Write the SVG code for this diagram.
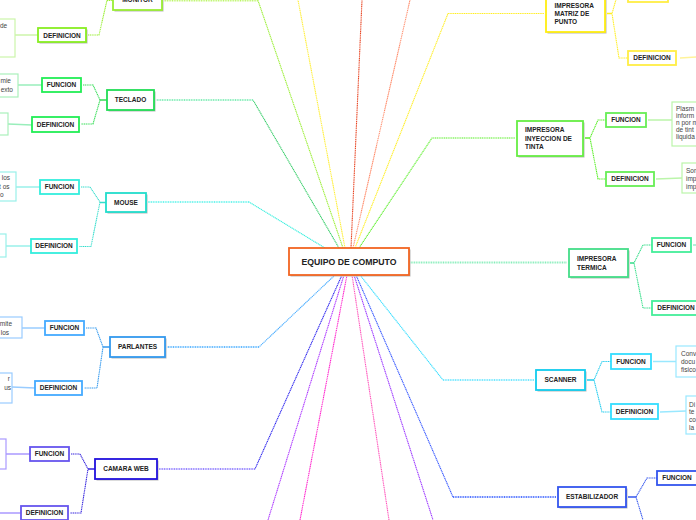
<svg xmlns="http://www.w3.org/2000/svg" width="696" height="520" viewBox="0 0 696 520">
<style>
.bg{fill:#ffffff}
.sh{fill:#b8b8b8}
.n{fill:#ffffff;stroke-width:1.8}
.tb{fill:#ffffff;stroke-width:1.2}
.t{font-family:"Liberation Sans",Arial,sans-serif;font-weight:bold;font-size:6.5px;fill:#222;text-anchor:middle}
.tl{font-family:"Liberation Sans",Arial,sans-serif;font-weight:bold;font-size:6.5px;fill:#222}
.d{font-family:"Liberation Sans",Arial,sans-serif;font-size:6.5px;fill:#444}
.de{font-family:"Liberation Sans",Arial,sans-serif;font-size:6.5px;fill:#444;text-anchor:end}
.c{fill:none;stroke-width:1.1;stroke-dasharray:1.2 0.6}
.cw{fill:none;stroke-width:2;stroke-dasharray:1 0.7}
.s{fill:none;stroke-width:1.5}
</style>
<rect class="bg" x="0" y="0" width="696" height="520"/>
<g id="connectors">
  <!-- main -->
  <path class="c" stroke="#99ee33" d="M343 248 L258 0.5"/>
  <path class="cw" stroke="#bbf566" d="M258 0.5 H164"/>
  <path class="c" stroke="#ffee33" d="M345 248 L298 0"/>
  <path class="c" stroke="#e84422" d="M351 248 L362 0"/>
  <path class="c" stroke="#ff8866" d="M353 248 L410 0"/>
  <path class="c" stroke="#33cc66" d="M339 248 L253 100"/>
  <path class="cw" stroke="#88eebb" d="M253 100 H156"/>
  <path class="c" stroke="#33eedd" d="M325 248 L249 202"/>
  <path class="cw" stroke="#77f5ee" d="M249 202 H148"/>
  <path class="c" stroke="#ffee22" d="M355 248 L448 13.5 H544"/>
  <path class="c" stroke="#55ee22" d="M359 248 L432 138 H515"/>
  <path class="cw" stroke="#88eebb" d="M409 262.5 H567"/>
  <path class="c" stroke="#44aaff" d="M335 275 L259 347"/>
  <path class="cw" stroke="#66bbff" d="M259 347 H167"/>
  <path class="c" stroke="#2a22ee" d="M342 275 L255 469"/>
  <path class="cw" stroke="#9988ff" d="M255 469 H159"/>
  <path class="c" stroke="#aa33ff" d="M344 275 L268 520"/>
  <path class="c" stroke="#ff22cc" d="M347 275 L300 520"/>
  <path class="c" stroke="#ff55bb" d="M352 275 L389 520"/>
  <path class="c" stroke="#9933ff" d="M354 275 L433 520"/>
  <path class="c" stroke="#3355ff" d="M356 275 L453 497"/>
  <path class="cw" stroke="#5577ff" d="M453 497 H556"/>
  <path class="c" stroke="#33ddff" d="M360 275 L443 380"/>
  <path class="cw" stroke="#77e8ff" d="M443 380 H534"/>
  <!-- branches -->
  <path class="c" stroke="#99ee33" d="M88 35 H99 L108 -4 M107 0.5 H113"/>
  <path class="s" stroke="#33dd55" d="M107 100 H100"/>
  <path class="c" stroke="#33dd55" d="M83 85 H93 L100 100 L93 124 H81"/>
  <path class="s" stroke="#33ddcc" d="M106 202.5 H100"/>
  <path class="c" stroke="#33ddcc" d="M81 187 H90 L100 202 L91 246.5 H79"/>
  <path class="s" stroke="#3399ee" d="M110 347 H103"/>
  <path class="c" stroke="#3399ee" d="M86 328 H96 L103 347 L97 388 H84"/>
  <path class="s" stroke="#3322dd" d="M95 469 H88"/>
  <path class="c" stroke="#3322dd" d="M71 454 H80 L88 469 L81 513 H70"/>
  <path class="s" stroke="#ffee22" d="M607 13.5 H612"/>
  <path class="c" stroke="#ffee22" d="M617 -4 L612 13.5 L619 58 H628"/>
  <path class="s" stroke="#55ee22" d="M585 138 H590"/>
  <path class="c" stroke="#55ee22" d="M606 120 H598 L590 138 L598 179 H606"/>
  <path class="s" stroke="#33dd88" d="M630 263 H634"/>
  <path class="c" stroke="#33dd88" d="M652 245 H643 L634 263 L643 308 H652"/>
  <path class="s" stroke="#22ccee" d="M587 380 H594"/>
  <path class="c" stroke="#22ccee" d="M611 361.5 H602 L594 380 L602 412 H611"/>
  <path class="s" stroke="#3355ee" d="M628 497 H636"/>
  <path class="c" stroke="#3355ee" d="M657 478 H647 L636 497 L643 520"/>
  <!-- to text boxes -->
  <path class="s" stroke="#ccf5aa" d="M15 35 H38"/>
  <path class="s" stroke="#99eebb" d="M18 85 H42"/>
  <path class="s" stroke="#99eebb" d="M8 124 L32 125"/>
  <path class="s" stroke="#99f0ea" d="M16 187 H40"/>
  <path class="s" stroke="#99f0ea" d="M6 246 H31"/>
  <path class="s" stroke="#99ccff" d="M22 328 H45"/>
  <path class="s" stroke="#99ccff" d="M12 387 L35 388"/>
  <path class="s" stroke="#aa99ff" d="M6 454 H30"/>
  <path class="s" stroke="#aa99ff" d="M0 513 H21"/>
  <path class="s" stroke="#bbf5aa" d="M648 120 H672"/>
  <path class="s" stroke="#bbf5aa" d="M656 179 L682 178"/>
  <path class="s" stroke="#fff399" d="M680 58 L696 57"/>
  <path class="s" stroke="#99eecc" d="M693 245 H696"/>
  <path class="s" stroke="#99e8ff" d="M653 361.5 H676"/>
  <path class="s" stroke="#99e8ff" d="M660 412 L686 411"/>
</g>

<g id="equipo">
  <rect class="sh" x="290.5" y="249.5" width="120" height="27"/>
  <rect class="n" stroke="#f26522" x="289" y="248" width="120" height="27"/>
  <text x="349" y="264.5" style="font-family:'Liberation Sans',Arial,sans-serif;font-weight:bold;font-size:8.7px;fill:#222;text-anchor:middle">EQUIPO DE COMPUTO</text>
</g>

<!-- LEFT -->
<g id="monitor">
  <rect class="sh" x="114.5" y="-8.5" width="49" height="20"/>
  <rect class="n" stroke="#99ee33" x="113" y="-10" width="49" height="20"/>
  <text class="t" x="137.5" y="2.3">MONITOR</text>
</g>
<g id="monitor-def">
  <rect class="sh" x="39.5" y="29.5" width="48" height="14"/>
  <rect class="n" stroke="#88ee22" x="38" y="28" width="48" height="14"/>
  <text class="t" x="62" y="37.5">DEFINICION</text>
</g>
<g id="monitor-def-text">
  <rect class="tb" stroke="#ccf5aa" x="-60" y="19" width="75" height="38"/>
  <text class="d" x="0" y="28">de</text>
</g>

<g id="teclado">
  <rect class="sh" x="108.5" y="91.5" width="47" height="20"/>
  <rect class="n" stroke="#22dd55" x="107" y="90" width="47" height="20"/>
  <text class="t" x="130.5" y="102.3">TECLADO</text>
</g>
<g id="teclado-fun">
  <rect class="n" stroke="#22ee55" x="42" y="78" width="39" height="14"/>
  <text class="t" x="61.5" y="87.3">FUNCION</text>
</g>
<g id="teclado-def">
  <rect class="n" stroke="#22ee55" x="32" y="117" width="47" height="15"/>
  <text class="t" x="55.5" y="126.8">DEFINICION</text>
</g>
<g id="teclado-fun-text">
  <rect class="tb" stroke="#aaf0bb" x="-60" y="74" width="78" height="23"/>
  <text class="de" x="11" y="83">mie</text>
  <text class="de" x="13" y="92">exto</text>
</g>
<g id="teclado-def-text">
  <rect class="tb" stroke="#aaf0bb" x="-60" y="113" width="68" height="22"/>
</g>

<g id="mouse">
  <rect class="sh" x="107.5" y="194.5" width="40" height="19"/>
  <rect class="n" stroke="#22ddcc" x="106" y="193" width="40" height="19"/>
  <text class="t" x="126" y="204.8">MOUSE</text>
</g>
<g id="mouse-fun">
  <rect class="n" stroke="#33eedd" x="40" y="180" width="39" height="14"/>
  <text class="t" x="59.5" y="189.3">FUNCION</text>
</g>
<g id="mouse-def">
  <rect class="n" stroke="#33eedd" x="31" y="239" width="46" height="14"/>
  <text class="t" x="54" y="248.3">DEFINICION</text>
</g>
<g id="mouse-fun-text">
  <rect class="tb" stroke="#99f0ea" x="-60" y="172" width="76" height="29"/>
  <text class="de" x="10" y="180">e los</text>
  <text class="de" x="9.5" y="188.5">t os</text>
  <text class="de" x="3.5" y="197">o</text>
</g>
<g id="mouse-def-text">
  <rect class="tb" stroke="#99f0ea" x="-60" y="234" width="66" height="23"/>
</g>

<g id="parlantes">
  <rect class="sh" x="111.5" y="338.5" width="55" height="20"/>
  <rect class="n" stroke="#3399ee" x="110" y="337" width="55" height="20"/>
  <text class="t" x="137.5" y="349.3">PARLANTES</text>
</g>
<g id="parlantes-fun">
  <rect class="n" stroke="#44aaff" x="45" y="321" width="39" height="14"/>
  <text class="t" x="64.5" y="330.3">FUNCION</text>
</g>
<g id="parlantes-def">
  <rect class="n" stroke="#44aaff" x="35" y="381" width="47" height="14"/>
  <text class="t" x="58.5" y="390.3">DEFINICION</text>
</g>
<g id="parlantes-fun-text">
  <rect class="tb" stroke="#99ccff" x="-60" y="317" width="82" height="21"/>
  <text class="de" x="12" y="326">mite</text>
  <text class="de" x="9" y="334.5">los</text>
</g>
<g id="parlantes-def-text">
  <rect class="tb" stroke="#99ccff" x="-60" y="373" width="72" height="30"/>
  <text class="de" x="10" y="381">r</text>
  <text class="de" x="11" y="390">us</text>
</g>

<g id="camara">
  <rect class="sh" x="96.5" y="460.5" width="62" height="20"/>
  <rect class="n" stroke="#2211dd" x="95" y="459" width="62" height="20"/>
  <text class="t" x="126" y="471.3">CAMARA WEB</text>
</g>
<g id="camara-fun">
  <rect class="n" stroke="#6655ee" x="30" y="447" width="39" height="14"/>
  <text class="t" x="49.5" y="456.3">FUNCION</text>
</g>
<g id="camara-def">
  <rect class="n" stroke="#6655ee" x="21" y="506" width="47" height="14"/>
  <text class="t" x="44.5" y="515.3">DEFINICION</text>
</g>
<g id="camara-fun-text">
  <rect class="tb" stroke="#aa99ff" x="-60" y="439" width="66" height="30"/>
</g>

<!-- RIGHT -->
<g id="matriz">
  <rect class="sh" x="547.5" y="-8.5" width="59" height="42"/>
  <rect class="n" stroke="#ffee11" x="546" y="-10" width="59" height="42"/>
  <text class="tl" x="554.5" y="7.8">IMPRESORA</text>
  <text class="tl" x="554.5" y="16.2">MATRIZ DE</text>
  <text class="tl" x="554.5" y="24.3">PUNTO</text>
</g>
<g id="matriz-fun">
  <rect class="n" stroke="#ffee44" x="628" y="-12" width="40" height="14"/>
</g>
<g id="matriz-def">
  <rect class="n" stroke="#ffee44" x="628" y="51" width="48" height="14"/>
  <text class="t" x="652" y="60.3">DEFINICION</text>
</g>

<g id="inyeccion">
  <rect class="sh" x="518.5" y="122.5" width="66" height="35"/>
  <rect class="n" stroke="#66ee44" x="517" y="121" width="66" height="35"/>
  <text class="tl" x="525" y="132.3">IMPRESORA</text>
  <text class="tl" x="525" y="140.5">INYECCION DE</text>
  <text class="tl" x="525" y="148.5">TINTA</text>
</g>
<g id="inyeccion-fun">
  <rect class="n" stroke="#66ee55" x="606" y="113" width="40" height="14"/>
  <text class="t" x="626" y="122.3">FUNCION</text>
</g>
<g id="inyeccion-def">
  <rect class="n" stroke="#66ee55" x="606" y="172" width="48" height="14"/>
  <text class="t" x="630" y="181.3">DEFINICION</text>
</g>
<g id="inyeccion-fun-text">
  <rect class="tb" stroke="#bbf5aa" x="672" y="102" width="60" height="44"/>
  <text class="d" x="676" y="110.5">Plasm</text>
  <text class="d" x="676" y="117.5">inform</text>
  <text class="d" x="676" y="124.5">n por m</text>
  <text class="d" x="676" y="131.5">de tint</text>
  <text class="d" x="676" y="138.5">liquida</text>
</g>
<g id="inyeccion-def-text">
  <rect class="tb" stroke="#bbf5aa" x="682" y="163" width="60" height="30"/>
  <text class="d" x="686" y="172.5">Son</text>
  <text class="d" x="686" y="180.7">imp</text>
  <text class="d" x="686" y="189">imp</text>
</g>

<g id="termica">
  <rect class="sh" x="570.5" y="250.5" width="59" height="28"/>
  <rect class="n" stroke="#44dd88" x="569" y="249" width="59" height="28"/>
  <text class="tl" x="577" y="260.5">IMPRESORA</text>
  <text class="tl" x="577" y="269.5">TERMICA</text>
</g>
<g id="termica-fun">
  <rect class="n" stroke="#44ee99" x="652" y="238" width="39" height="14"/>
  <text class="t" x="671.5" y="247.3">FUNCION</text>
</g>
<g id="termica-def">
  <rect class="n" stroke="#44ee99" x="652" y="301" width="48" height="14"/>
  <text class="t" x="676" y="310.3">DEFINICION</text>
</g>

<g id="scanner">
  <rect class="sh" x="537.5" y="371.5" width="49" height="20"/>
  <rect class="n" stroke="#11ccee" x="536" y="370" width="49" height="20"/>
  <text class="t" x="560.5" y="382.3">SCANNER</text>
</g>
<g id="scanner-fun">
  <rect class="n" stroke="#33ddff" x="611" y="354" width="40" height="15"/>
  <text class="t" x="631" y="363.8">FUNCION</text>
</g>
<g id="scanner-def">
  <rect class="n" stroke="#33ddff" x="611" y="404" width="47" height="15"/>
  <text class="t" x="634.5" y="413.8">DEFINICION</text>
</g>
<g id="scanner-fun-text">
  <rect class="tb" stroke="#99e8ff" x="676" y="346" width="60" height="31"/>
  <text class="d" x="681" y="355.5">Conv</text>
  <text class="d" x="681" y="363.5">docu</text>
  <text class="d" x="681" y="371.5">fisico</text>
</g>
<g id="scanner-def-text">
  <rect class="tb" stroke="#99e8ff" x="686" y="396" width="60" height="38"/>
  <text class="d" x="689" y="406.5">Di</text>
  <text class="d" x="689" y="414.2">te</text>
  <text class="d" x="689" y="422">co</text>
  <text class="d" x="689" y="430">la</text>
</g>

<g id="estabilizador">
  <rect class="sh" x="559.5" y="488.5" width="68" height="20"/>
  <rect class="n" stroke="#3355ee" x="558" y="487" width="68" height="20"/>
  <text class="t" x="592" y="499.3">ESTABILIZADOR</text>
</g>
<g id="estabilizador-fun">
  <rect class="n" stroke="#3355ee" x="657" y="471" width="40" height="14"/>
  <text class="t" x="677" y="480.3">FUNCION</text>
</g>
</svg>
